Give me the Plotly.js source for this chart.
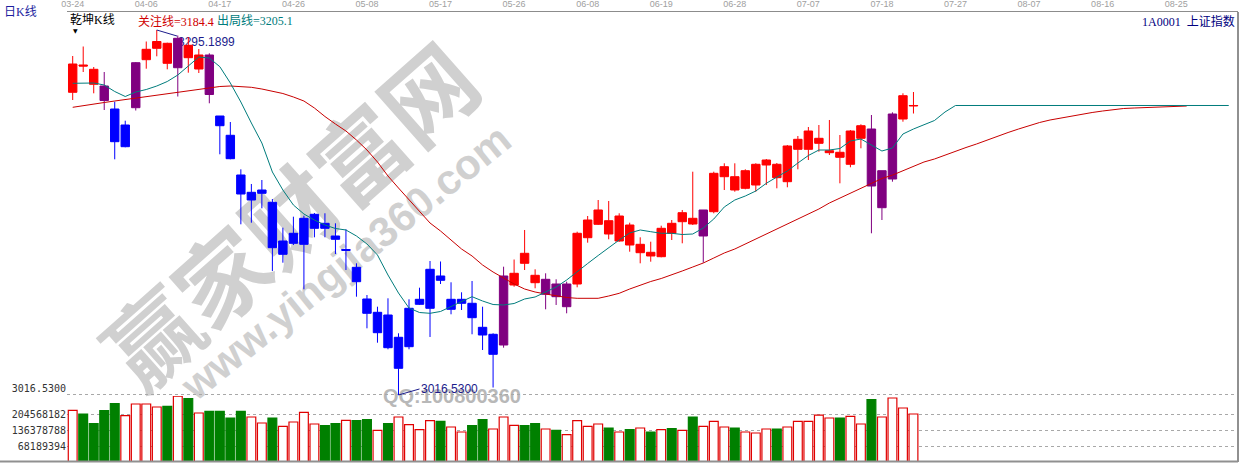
<!DOCTYPE html>
<html>
<head>
<meta charset="utf-8">
<script src="https://cdn.plot.ly/plotly-3.0.1.min.js"></script>
<style>
  html, body { margin: 0; padding: 0; background: #ffffff; }
  #stage { position: relative; width: 1242px; height: 463px; overflow: hidden; }
  #under, #chart { position: absolute; left: 0; top: 0; width: 1242px; height: 463px; }
</style>
</head>
<body>
<div id="stage">
  <div id="under"></div>
  <div id="chart"></div>
</div>
<script>
// 上证指数 (1A0001) daily bars, 2017-03-24 .. 2017-07-21
const dates = ['03-24','03-27','03-28','03-29','03-30','03-31','04-05','04-06','04-07','04-10',
  '04-11','04-12','04-13','04-14','04-17','04-18','04-19','04-20','04-21','04-24',
  '04-25','04-26','04-27','04-28','05-02','05-03','05-04','05-05','05-08','05-09',
  '05-10','05-11','05-12','05-15','05-16','05-17','05-18','05-19','05-22','05-23',
  '05-24','05-25','05-26','05-31','06-01','06-02','06-05','06-06','06-07','06-08',
  '06-09','06-12','06-13','06-14','06-15','06-16','06-19','06-20','06-21','06-22',
  '06-23','06-26','06-27','06-28','06-29','06-30','07-03','07-04','07-05','07-06',
  '07-07','07-10','07-11','07-12','07-13','07-14','07-17','07-18','07-19','07-20','07-21'];

const open = [3247.62,3268.47,3265.18,3252.43,3234.87,3206.09,3235.87,3272.51,3281.22,3285.03,
  3266.40,3283.51,3265.41,3276.10,3229.53,3214.80,3184.49,3165.40,3170.52,3163.64,
  3123.94,3132.34,3131.58,3143.79,3147.61,3137.92,3126.85,3114.02,3089.82,3064.09,
  3077.60,3036.91,3053.40,3085.77,3082.72,3107.38,3081.95,3086.54,3086.54,3068.21,
  3047.60,3054.70,3100.51,3124.71,3107.91,3093.41,3101.27,3083.94,3101.27,3136.62,
  3146.85,3149.60,3134.10,3146.31,3125.17,3125.47,3122.11,3147.61,3148.83,3151.43,
  3137.92,3156.47,3183.19,3183.19,3174.33,3176.85,3192.12,3192.66,3179.37,3204.11,
  3204.11,3208.69,3201.51,3201.82,3192.66,3212.50,3219.60,3159.52,3181.43,3227.24,3237.16];

const high = [3275.34,3282.59,3266.94,3263.12,3240.45,3225.94,3270.76,3286.41,3295.1899,3285.49,
  3290.99,3289.84,3280.68,3277.40,3229.53,3224.95,3188.84,3177.62,3180.67,3166.16,
  3144.25,3152.65,3153.41,3155.48,3155.25,3147.61,3143.03,3117.07,3092.87,3083.94,
  3090.35,3063.63,3089.59,3098.45,3118.83,3118.45,3102.57,3094.93,3103.56,3083.94,
  3063.63,3114.48,3119.97,3142.50,3112.49,3109.44,3104.86,3103.03,3141.20,3153.18,
  3165.40,3164.64,3155.25,3148.07,3136.92,3133.56,3145.78,3150.13,3157.77,3187.01,
  3157.77,3187.01,3193.42,3193.42,3188.84,3193.42,3196.70,3193.65,3207.39,3214.26,
  3221.13,3222.66,3226.48,3215.02,3218.84,3223.19,3230.29,3187.77,3232.35,3246.86,3247.85];

const low = [3241.74,3263.12,3246.86,3234.11,3196.47,3205.63,3233.73,3265.64,3275.11,3265.18,
  3244.42,3262.59,3262.36,3239.23,3200.29,3196.47,3146.85,3148.07,3159.06,3111.20,
  3117.53,3131.04,3097.22,3136.92,3136.92,3124.17,3111.96,3091.58,3067.45,3056.46,
  3051.42,3016.53,3051.42,3085.24,3060.81,3101.27,3078.14,3081.42,3062.87,3050.88,
  3022.25,3052.64,3099.21,3111.96,3097.99,3081.95,3085.24,3078.90,3098.75,3132.80,
  3146.31,3135.40,3133.56,3125.93,3117.07,3118.29,3121.65,3134.86,3132.34,3146.31,
  3117.53,3155.25,3173.03,3171.73,3173.57,3171.73,3176.85,3174.33,3175.10,3188.84,
  3195.94,3202.27,3199.76,3178.15,3190.37,3204.87,3139.98,3150.13,3179.37,3225.18,3231.44];

const close = [3269.23,3267.70,3253.73,3241.36,3209.91,3222.66,3270.22,3280.45,3286.41,3269.76,
  3288.85,3274.04,3276.10,3245.94,3222.12,3196.93,3169.98,3171.28,3173.03,3128.98,
  3134.10,3139.98,3151.43,3154.48,3143.79,3135.40,3127.61,3103.03,3078.90,3079.66,
  3052.64,3060.58,3082.72,3089.59,3112.49,3104.09,3089.59,3089.59,3075.54,3062.33,
  3062.87,3107.38,3109.44,3117.07,3102.26,3104.86,3091.58,3101.27,3139.98,3150.13,
  3157.77,3139.44,3153.18,3131.04,3131.58,3122.65,3143.79,3139.98,3155.70,3147.08,
  3157.77,3185.78,3190.82,3173.03,3187.77,3192.66,3195.94,3182.43,3206.63,3211.74,
  3218.08,3212.50,3203.04,3198.00,3218.08,3222.12,3176.09,3187.77,3231.06,3245.03,3237.55];

// 乾坤K线 colouring state of each bar: r = red, b = blue, p = purple
const tone = ['r','r','r','p','b','b','p','r','r','r','p','r','r','p',
  'b','b','b','b','b','b','b','b','b','b','b','b','b','b','b','b','b','b','b','b','b','b','b','b','b','b','b',
  'p','r','r','r','p','p','p',
  'r','r','r','r','r','r','r','r','r','r','r','r','p',
  'r','r','r','r','r','r','r','r','r','r','r','r','r','r','r',
  'p','p','p','r','r'];

const volume = [219900000,204600000,163200000,218600000,248500000,197300000,247200000,247200000,234400000,237000000,
  280500000,269800000,208800000,215600000,215600000,187500000,215600000,191800000,166200000,187500000,
  151700000,170500000,211400000,161900000,154700000,163200000,177300000,176000000,180300000,134700000,
  163200000,191800000,159000000,137700000,176000000,173000000,149200000,127900000,154700000,180300000,
  140600000,191800000,156000000,154700000,163200000,140600000,134700000,116300000,176000000,151700000,
  161900000,144900000,127900000,137700000,144900000,127900000,137700000,141900000,134700000,191800000,
  151700000,173000000,149200000,144900000,127900000,123600000,140600000,140600000,149200000,173000000,
  173000000,199500000,187500000,187500000,194300000,161900000,265500000,191800000,272800000,230100000,204600000];

// 出局线 (teal) and 关注线 (red); both run on past the last bar toward the last close
const exitLine = [3254.49,3254.72,3254.72,3253.20,3248.23,3244.42,3247.85,3249.76,3252.43,3255.87,
  3260.83,3267.70,3274.57,3273.81,3267.17,3254.72,3240.22,3224.19,3208.92,3186.78,
  3173.03,3161.58,3154.71,3150.13,3146.31,3143.64,3142.50,3137.92,3131.81,3123.41,
  3108.14,3094.40,3082.95,3079.51,3078.90,3080.28,3084.09,3088.29,3091.58,3088.29,
  3085.62,3085.24,3086.38,3089.82,3091.35,3095.16,3098.98,3104.32,3110.81,3116.92,
  3123.03,3129.14,3134.86,3140.21,3142.50,3141.20,3139.98,3139.98,3139.06,3139.44,
  3144.02,3150.89,3160.06,3165.40,3168.45,3172.27,3178.15,3182.96,3187.54,3193.65,
  3199.37,3203.57,3203.57,3204.72,3210.44,3211.97,3207.39,3202.81,3205.10,3215.79,
  3219.60,3222.66,3226.09,3232.58,3237.55,3237.55,3237.55,3237.55,3237.55,3237.55,
  3237.55,3237.55,3237.55,3237.55,3237.55,3237.55,3237.55,3237.55,3237.55,3237.55,
  3237.55,3237.55,3237.55,3237.55,3237.55,3237.55,3237.55,3237.55,3237.55,3237.55,3237.55];

const watchLine = [3236.17,3237.55,3238.69,3239.84,3240.98,3242.13,3243.27,3244.42,3245.56,3246.71,
  3247.85,3249.00,3250.14,3251.29,3252.05,3252.43,3252.05,3251.44,3250.14,3248.62,
  3246.71,3244.04,3240.98,3235.64,3229.15,3223.42,3218.08,3211.21,3203.57,3194.41,
  3183.72,3174.56,3165.40,3157.00,3147.84,3141.73,3134.86,3127.99,3122.65,3115.78,
  3110.43,3105.85,3101.27,3097.45,3095.16,3093.64,3092.11,3090.96,3090.35,3090.35,
  3090.35,3092.11,3094.17,3097.45,3100.51,3103.18,3105.47,3108.14,3111.20,3114.25,
  3117.30,3121.12,3124.94,3127.99,3131.81,3135.63,3139.06,3142.88,3146.70,3150.51,
  3154.71,3158.53,3163.11,3166.93,3170.74,3174.18,3178.00,3181.81,3184.40,3187.54,
  3190.98,3194.41,3196.70,3199.76,3202.43,3205.48,3208.15,3211.21,3214.26,3216.93,
  3219.60,3222.28,3224.57,3226.48,3228.00,3229.53,3231.06,3232.20,3233.35,3234.49,
  3235.26,3235.64,3236.02,3236.40,3236.78,3237.16,3237.16];

// date labels along the top axis, one every seven trading days
const axisTicks = ['03-24','04-06','04-17','04-26','05-08','05-17','05-26','06-08',
  '06-19','06-28','07-07','07-18','07-27','08-07','08-16','08-25'];
const tickStep = 7;

// bar whose readings are shown in the header
const cursorBar = 78;

const volumeTicks = [68189394, 136378788, 204568182];

// ---------- geometry ----------
const W = 1242, H = 463;
const M = { l: 67, r: 4, t: 12, b: 1 };
const PW = W - M.l - M.r, PH = H - M.t - M.b;
const volFrac = 66 / PH;                       // volume pane height
const xRange = [-0.542, 110.88];
const priceRange = [3015.76, 3308.93];
const volRange = [0, 281281250];
const px = x => (x - M.l) / PW;                // page pixel -> paper
const py = y => (H - M.b - y) / PH;

const idx = close.map((_, i) => i);
const peak = high.indexOf(Math.max(...high));
const trough = low.indexOf(Math.min(...low));
const isUp = i => close[i] >= open[i];

// ---------- traces ----------
const tonePalette = { r: '#FF0000', b: '#0000FF', p: '#800080' };
const candleTraces = Object.keys(tonePalette).map(key => {
  const sel = idx.filter(i => tone[i] === key);
  const c = tonePalette[key];
  return {
    type: 'candlestick',
    x: sel,
    open: sel.map(i => open[i]),
    high: sel.map(i => high[i]),
    low: sel.map(i => low[i]),
    close: sel.map(i => close[i]),
    text: sel.map(i => dates[i]),
    increasing: { line: { color: c, width: 1 }, fillcolor: c },
    decreasing: { line: { color: c, width: 1 }, fillcolor: c },
    whiskerwidth: 0,
    hoverinfo: 'skip',
    showlegend: false,
    xaxis: 'x', yaxis: 'y'
  };
});

const lineTraces = [
  { type: 'scatter', mode: 'lines', x: watchLine.map((_, i) => i), y: watchLine,
    line: { color: '#C80000', width: 1 }, hoverinfo: 'skip', xaxis: 'x', yaxis: 'y' },
  { type: 'scatter', mode: 'lines', x: exitLine.map((_, i) => i), y: exitLine,
    line: { color: '#007C7C', width: 1 }, hoverinfo: 'skip', xaxis: 'x', yaxis: 'y' }
];

const volumeTrace = {
  type: 'bar', x: idx, y: volume, width: 0.84,
  marker: {
    color: idx.map(i => isUp(i) ? '#FFFFFF' : '#008000'),
    line: { color: idx.map(i => isUp(i) ? '#E00000' : '#008000'), width: 1.2 }
  },
  hoverinfo: 'skip', xaxis: 'x', yaxis: 'y2'
};

// ---------- layout ----------
const cjk = 'Liberation Serif, Noto Sans CJK SC, serif';
const gridDash = '3px,3px';

const baseAxes = {
  xaxis: {
    range: xRange, side: 'top', anchor: 'y',
    tickvals: axisTicks.map((_, k) => k * tickStep), ticktext: axisTicks,
    showline: true, linecolor: '#8C8C8C', linewidth: 1, mirror: false,
    showgrid: false, zeroline: false, ticks: '',
    tickfont: { family: 'Liberation Sans, Arial, sans-serif', size: 9, color: '#A0A0A0' },
    rangeslider: { visible: false }, fixedrange: true
  },
  yaxis: {
    domain: [volFrac, 1], range: priceRange, anchor: 'x',
    tickvals: [low[trough]], ticktext: [low[trough].toFixed(4)],
    ticklabelshift: -6,
    showgrid: true, gridcolor: '#A8A8A8', gridwidth: 1, griddash: gridDash,
    zeroline: false, showline: false, ticks: '',
    tickfont: { family: 'DejaVu Sans Mono, monospace', size: 10, color: '#333333' },
    fixedrange: true
  },
  yaxis2: {
    domain: [0, volFrac], range: volRange, anchor: 'x',
    tickvals: volumeTicks, ticktext: volumeTicks.map(String),
    showgrid: true, gridcolor: '#A8A8A8', gridwidth: 1, griddash: gridDash,
    zeroline: false, showline: false, ticks: '',
    tickfont: { family: 'DejaVu Sans Mono, monospace', size: 10, color: '#333333' },
    fixedrange: true
  }
};

const headerFont = (color) => ({ family: cjk, size: 12, color });

const frontLayout = Object.assign({
  width: W, height: H,
  margin: { l: M.l, r: M.r, t: M.t, b: M.b, pad: 0 },
  paper_bgcolor: 'rgba(0,0,0,0)', plot_bgcolor: 'rgba(0,0,0,0)',
  showlegend: false, hovermode: false,
  boxgap: 0.2, boxgroupgap: 0, bargap: 0,
  shapes: [
    { type: 'line', xref: 'paper', yref: 'paper', x0: 1, x1: 1, y0: 0, y1: 1,
      line: { color: '#909090', width: 2 } },
    { type: 'line', xref: 'paper', yref: 'paper', x0: px(0), x1: 1, y0: py(461.5), y1: py(461.5),
      line: { color: '#909090', width: 2 } },
    // leader from the highest high to its label
    { type: 'line', xref: 'x', yref: 'y', x0: peak, y0: high[peak], x1: peak + 1.93, y1: high[peak] - 4.6,
      line: { color: '#1C1C8C', width: 1 } },
    // leader from the lowest low to its label
    { type: 'line', xref: 'x', yref: 'y', x0: trough, y0: low[trough], x1: trough + 2, y1: low[trough] + 4.6,
      line: { color: '#1C1C8C', width: 1 } }
  ],
  annotations: [
    { xref: 'paper', yref: 'paper', x: px(2), y: py(12), xanchor: 'left', yanchor: 'middle',
      text: '日K线', showarrow: false, font: headerFont('#1E1EA0') },
    { xref: 'paper', yref: 'paper', x: px(68), y: py(19.5), xanchor: 'left', yanchor: 'middle',
      text: '乾坤K线', showarrow: false, font: headerFont('#000000') },
    { xref: 'paper', yref: 'paper', x: px(75.5), y: py(30), xanchor: 'center', yanchor: 'middle',
      text: '▼', showarrow: false, font: { family: 'DejaVu Sans', size: 6, color: '#000000' } },
    { xref: 'paper', yref: 'paper', x: px(136), y: py(21), xanchor: 'left', yanchor: 'middle',
      text: '关注线=' + watchLine[cursorBar].toFixed(1), showarrow: false, font: headerFont('#D00000') },
    { xref: 'paper', yref: 'paper', x: px(215), y: py(21), xanchor: 'left', yanchor: 'middle',
      text: '出局线=' + exitLine[cursorBar].toFixed(1), showarrow: false, font: headerFont('#007C7C') },
    { xref: 'paper', yref: 'paper', x: px(1237), y: py(21), xanchor: 'right', yanchor: 'middle',
      text: '1A0001&nbsp;&nbsp;上证指数', showarrow: false, font: headerFont('#000080') },
    { xref: 'x', yref: 'y', x: trough + 2.02, y: low[trough] + 4.6, xanchor: 'left', yanchor: 'middle',
      text: low[trough].toFixed(4), showarrow: false, borderpad: 0,
      font: { family: 'Liberation Sans, Arial, sans-serif', size: 12, color: '#1C1C8C' } }
  ]
}, JSON.parse(JSON.stringify(baseAxes)));

Plotly.newPlot('chart', candleTraces.concat(lineTraces, [volumeTrace]), frontLayout,
  { staticPlot: true, displayModeBar: false });

// ---------- underlay: site watermark and the high-price label ----------
const hiddenAxes = JSON.parse(JSON.stringify(baseAxes));
['xaxis', 'yaxis', 'yaxis2'].forEach(k => { hiddenAxes[k].visible = false; hiddenAxes[k].showgrid = false; });

const markGrey = '#D0D0D0';
const underLayout = Object.assign({
  width: W, height: H,
  margin: { l: M.l, r: M.r, t: M.t, b: M.b, pad: 0 },
  paper_bgcolor: '#FFFFFF', plot_bgcolor: '#FFFFFF',
  showlegend: false, hovermode: false,
  annotations: [
    { xref: 'paper', yref: 'paper', x: px(287), y: py(212), xanchor: 'center', yanchor: 'middle',
      text: '赢家财富网', textangle: -41.5, showarrow: false,
      font: { family: 'Noto Sans CJK SC, sans-serif', size: 92, color: markGrey, weight: 'bold' } },
    { xref: 'paper', yref: 'paper', x: px(345), y: py(262), xanchor: 'center', yanchor: 'middle',
      text: 'www.yingjia360.com', textangle: -39, showarrow: false,
      font: { family: 'Liberation Sans, Arial, sans-serif', size: 42, color: markGrey, weight: 'bold' } },
    { xref: 'paper', yref: 'paper', x: px(452), y: py(396), xanchor: 'center', yanchor: 'middle',
      text: 'QQ:100800360', showarrow: false,
      font: { family: 'Liberation Sans, Arial, sans-serif', size: 20, color: '#B8B8B8', weight: 'bold' } },
    { xref: 'x', yref: 'y', x: peak + 1.93, y: high[peak] - 9.2, xanchor: 'left', yanchor: 'middle',
      text: high[peak].toFixed(4), showarrow: false, borderpad: 0,
      font: { family: 'Liberation Sans, Arial, sans-serif', size: 12, color: '#1C1C8C' } }
  ]
}, hiddenAxes);

Plotly.newPlot('under', [{ type: 'scatter', x: [], y: [], xaxis: 'x', yaxis: 'y' }], underLayout,
  { staticPlot: true, displayModeBar: false });
</script>
</body>
</html>
